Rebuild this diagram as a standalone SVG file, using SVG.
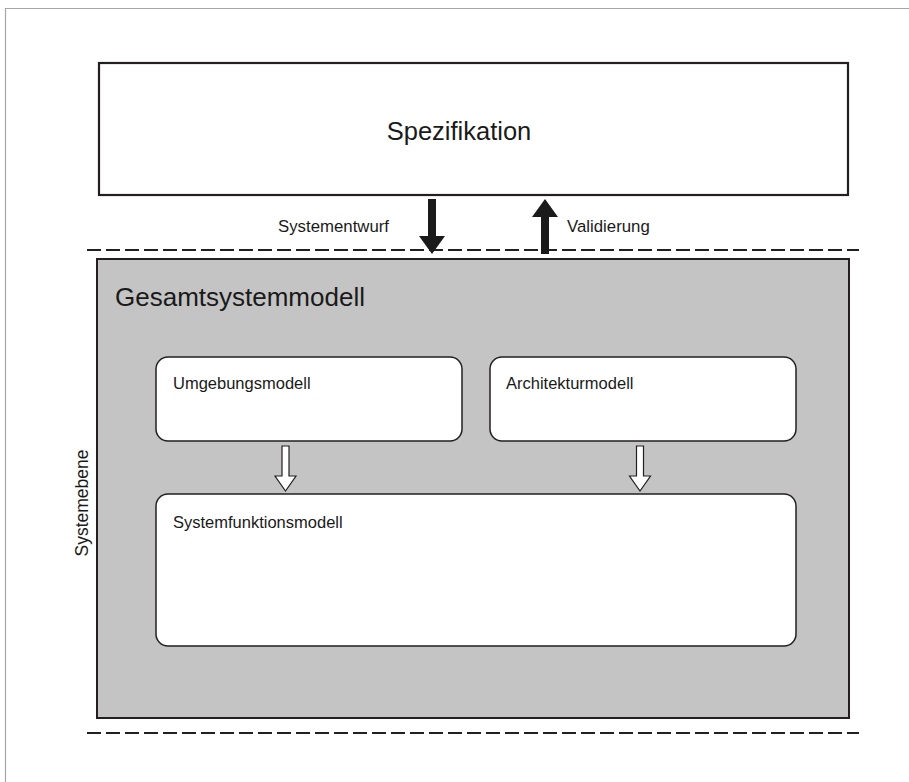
<svg xmlns="http://www.w3.org/2000/svg" width="909" height="782" viewBox="0 0 909 782">
<style>
text{font-family:"Liberation Sans",Arial,sans-serif;fill:#1a1a1a}
.box{fill:#fff;stroke:#231f20;stroke-width:1.5}
.dash{stroke:#231f20;stroke-width:2;stroke-dasharray:14,5;fill:none}
.solid{fill:#1a1a1a;stroke:none}
.hollow{fill:#fff;stroke:#231f20;stroke-width:1.2}
</style>
<rect width="909" height="782" fill="#fff"/>
<path d="M5.5 782V8.5H909" fill="none" stroke="#a6a6a6" stroke-width="1.2"/>
<g id="spezifikation">
<rect x="99" y="63" width="749" height="132" fill="#fff" stroke="#231f20" stroke-width="2.2"/>
<text x="459" y="140" font-size="25.5" text-anchor="middle">Spezifikation</text>
</g>
<text x="389" y="232" font-size="16.8" text-anchor="end">Systementwurf</text>
<text x="567" y="232" font-size="16.8">Validierung</text>
<g id="gesamtsystemmodell">
<rect x="97" y="259" width="752" height="459" fill="#c4c4c4" stroke="#231f20" stroke-width="2"/>
<text x="115" y="306" font-size="26">Gesamtsystemmodell</text>
</g>
<g id="umgebungsmodell">
<rect class="box" x="156" y="357" width="306" height="84" rx="12"/>
<text x="173" y="389" font-size="16.5">Umgebungsmodell</text>
</g>
<g id="architekturmodell">
<rect class="box" x="490" y="357" width="306" height="84" rx="12"/>
<text x="506" y="389" font-size="16.5">Architekturmodell</text>
</g>
<g id="systemfunktionsmodell">
<rect class="box" x="156" y="494" width="640" height="152" rx="12"/>
<text x="173" y="528" font-size="16.5">Systemfunktionsmodell</text>
</g>
<g id="connectors">
<line class="dash" x1="87" y1="250" x2="859" y2="250"/>
<line class="dash" x1="87" y1="733" x2="859" y2="733"/>
<polygon class="solid" points="428,199 436,199 436,236 445,236 432,254 419,236 428,236"/>
<polygon class="solid" points="545,199 558,217 549,217 549,254 541,254 541,217 532,217"/>
<polygon class="hollow" points="282,446 289,446 289,476 296,476 285.5,491 275,476 282,476"/>
<polygon class="hollow" points="636.5,446 643.5,446 643.5,476 650.5,476 640,491 629.5,476 636.5,476"/>
</g>
<text transform="translate(88,503) rotate(-90)" font-size="17.5" text-anchor="middle">Systemebene</text>
</svg>
